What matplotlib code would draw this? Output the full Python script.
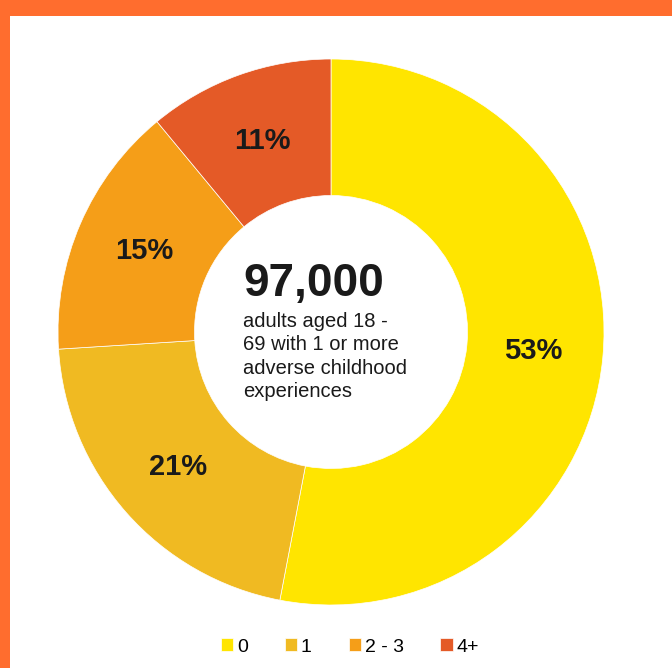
import matplotlib.pyplot as plt
from matplotlib.patches import Rectangle

plt.rcParams['font.family'] = ['Liberation Sans', 'DejaVu Sans']

# Data
categories = ['0', '1', '2 - 3', '4+']
shares = [53, 21, 15, 11]
colors = ['#FFE500', '#F0BA22', '#F59E18', '#E45A27']
total_text = '97,000'
sub_text = 'adults aged 18 -\n69 with 1 or more\nadverse childhood\nexperiences'

fig = plt.figure(figsize=(6.72, 6.68), dpi=100)
fig.patch.set_facecolor('white')

# orange frame on top and left
fig.patches.append(Rectangle((0, 1 - 16 / 668), 1, 16 / 668, transform=fig.transFigure,
                             facecolor='#FF6D2E', edgecolor='none', zorder=0))
fig.patches.append(Rectangle((0, 0), 10 / 672, 1, transform=fig.transFigure,
                             facecolor='#FF6D2E', edgecolor='none', zorder=0))

ax = fig.add_axes([58 / 672, 63 / 668, 546 / 672, 546 / 668])
wedges, texts, autotexts = ax.pie(
    shares, colors=colors, startangle=90, counterclock=False, radius=1,
    autopct=lambda p: f'{round(p)}%', pctdistance=0.745,
    wedgeprops=dict(width=0.5, edgecolor='white', linewidth=0.5),
    textprops=dict(fontsize=21, fontweight='bold', color='#1a1a1a'))
ax.set_xlim(-1, 1)
ax.set_ylim(-1, 1)
ax.set_aspect('equal')

# center labels
ax.text(-0.322, 0.177, total_text, fontsize=33, fontweight='bold', color='#1a1a1a',
        ha='left', va='center')
ax.text(-0.322, 0.075, sub_text, fontsize=14.5, color='#1a1a1a', ha='left', va='top',
        linespacing=1.3)

fig.legend(wedges, categories, loc='center', bbox_to_anchor=(350 / 672, 1 - 647 / 668),
           ncol=4, frameon=False, fontsize=14, handlelength=0.62, handleheight=0.62,
           handletextpad=0.2, columnspacing=1.9)

plt.savefig('out.png', dpi=100)
